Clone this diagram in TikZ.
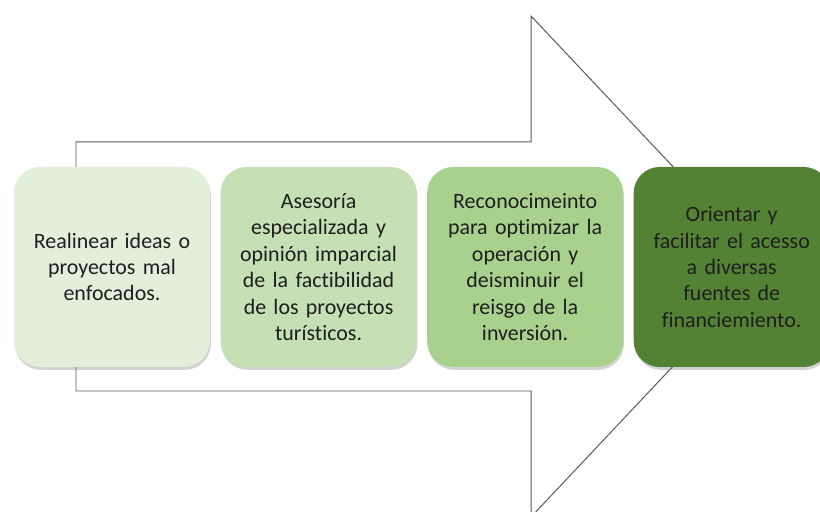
\documentclass[tikz,border=0pt]{standalone}
\usepackage{fontspec}
\setmainfont[Ligatures=NoCommon]{Carlito}
\usetikzlibrary{positioning}
\usetikzlibrary{shadows}
\definecolor{stepone}{HTML}{E2EFDA}
\definecolor{steptwo}{HTML}{C5E0B4}
\definecolor{stepthree}{HTML}{A9D18E}
\definecolor{stepfour}{HTML}{548235}
\definecolor{outline}{HTML}{595959}
\definecolor{boxtext}{HTML}{1E1E1E}
\tikzset{stepbox/.style = {shape=rectangle,rounded corners=0.65cm,minimum width=4.9cm,minimum height=5cm,
    align=center,text width=4.6cm,text=boxtext,font=\fontsize{15.6}{18.8}\selectfont,
    drop shadow={shadow xshift=0.6pt,shadow yshift=-2pt,opacity=0.35}}}
\tikzset{bigarrow/.style = {draw=outline,line width=0.7pt,fill=white}}

\begin{document}
\begin{tikzpicture}
            \useasboundingbox (0,0) rectangle (20.5,12.8);

            % Arrow
            \coordinate (s1) at (1.9,9.25);
            \coordinate (s2) at (13.275,9.25);
            \coordinate (h1) at (13.275,12.4);
            \coordinate (tip) at (19.175,6.1375);
            \coordinate (h2) at (13.275,-0.125);
            \coordinate (s3) at (13.275,3.025);
            \coordinate (s4) at (1.9,3.025);
            \draw[bigarrow] (s1) -- (s2) -- (h1) -- (tip) -- (h2) -- (s3) -- (s4) -- cycle;

            % Steps
            \node[stepbox,fill=stepone] (one) at (2.8,6.125) {Realinear ideas o\\ proyectos mal\\ enfocados.};
            \node[stepbox,fill=steptwo,right=0.25cm of one] (two) {Asesoría\\ especializada y\\ opinión imparcial\\ de la factibilidad\\ de los proyectos\\ turísticos.};
            \node[stepbox,fill=stepthree,right=0.25cm of two] (three) {Reconocimeinto\\ para optimizar la\\ operación y\\ deisminuir el\\ reisgo de la\\ inversión.};
            \node[stepbox,fill=stepfour,right=0.25cm of three] (four) {Orientar y\\ facilitar el acesso\\ a diversas\\ fuentes de\\ financiemiento.};
        \end{tikzpicture}
\end{document}
